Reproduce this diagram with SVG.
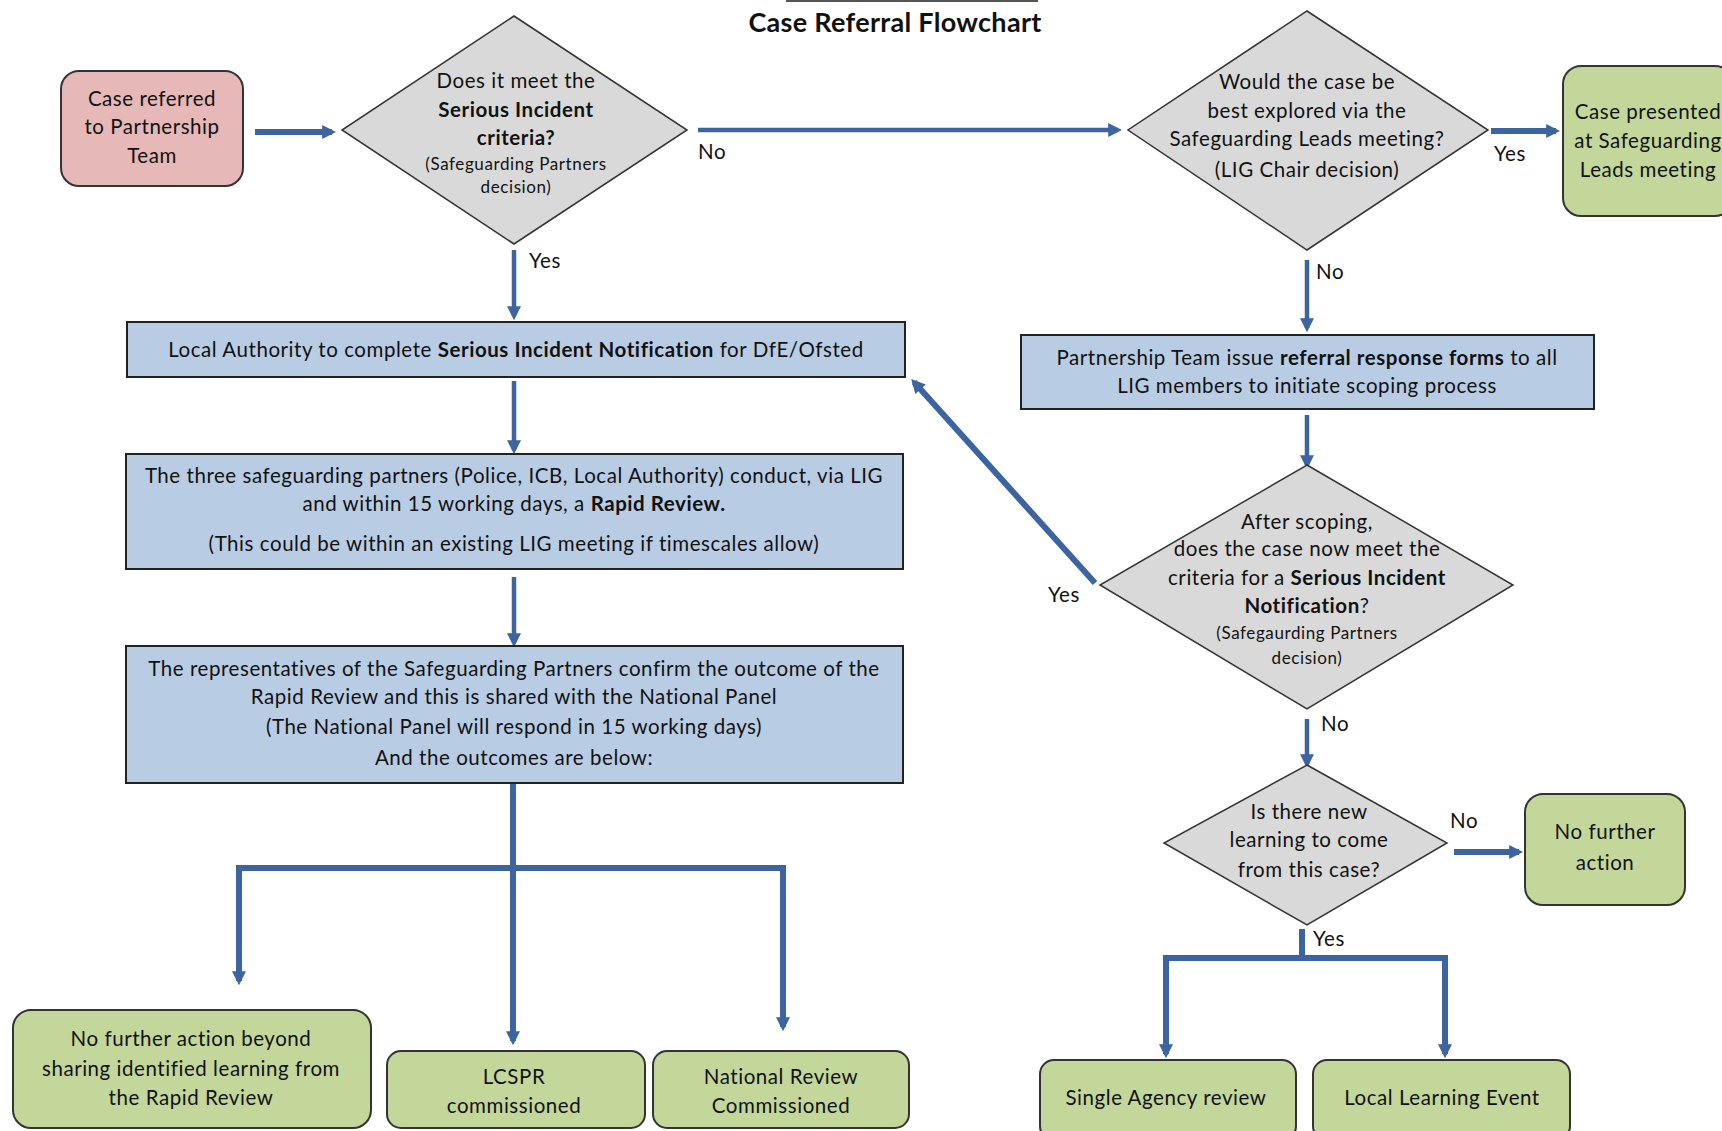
<svg xmlns="http://www.w3.org/2000/svg" width="1722" height="1131" viewBox="0 0 1722 1131">
<style>
text{font-family:Lato,"Liberation Sans",sans-serif;font-size:20.5px;letter-spacing:0.55px;fill:#111;text-anchor:middle}
.b{font-weight:bold}
.s{font-size:17px;letter-spacing:0.6px}
.t{font-size:27px;font-weight:bold;letter-spacing:0.3px}
.pink{fill:#e6b8b7;stroke:#333;stroke-width:2}
.green{fill:#c4d79b;stroke:#333;stroke-width:2}
.blue{fill:#b8cce4;stroke:#222;stroke-width:2}
.dia{fill:#d9d9d9;stroke:#333;stroke-width:1.5}
.c{fill:none;stroke:#3b64a0;stroke-linejoin:miter}
.w{stroke-width:6}
.n{stroke-width:4.5}
.lbl{text-anchor:start}
</style>
<defs>
<marker id="ah" markerUnits="userSpaceOnUse" markerWidth="14" markerHeight="14" viewBox="0 0 10 10" refX="7" refY="5" orient="auto">
<path d="M0,0 L10,5 L0,10 Z" fill="#3b64a0"/>
</marker>
</defs>
<line x1="786" y1="1" x2="1038" y2="1" stroke="#555" stroke-width="2"/>
<text class="t" x="895" y="32">Case Referral Flowchart</text>

<g id="connectors">
<line class="c w" x1="255" y1="132" x2="332" y2="132" marker-end="url(#ah)"/>
<line class="c n" x1="698" y1="130" x2="1118" y2="130" marker-end="url(#ah)"/>
<line class="c w" x1="1491" y1="131" x2="1556" y2="131" marker-end="url(#ah)"/>
<line class="c n" x1="514" y1="250" x2="514" y2="316" marker-end="url(#ah)"/>
<line class="c n" x1="514" y1="381" x2="514" y2="450" marker-end="url(#ah)"/>
<line class="c n" x1="514" y1="577" x2="514" y2="643" marker-end="url(#ah)"/>
<line class="c n" x1="1307" y1="260" x2="1307" y2="328" marker-end="url(#ah)"/>
<line class="c n" x1="1307" y1="415" x2="1307" y2="465" marker-end="url(#ah)"/>
<line class="c w" x1="1095" y1="583" x2="914" y2="382" marker-end="url(#ah)"/>
<line class="c n" x1="1307" y1="719" x2="1307" y2="764" marker-end="url(#ah)"/>
<line class="c w" x1="1454" y1="852" x2="1519" y2="852" marker-end="url(#ah)"/>
<line class="c w" x1="513" y1="783" x2="513" y2="1041" marker-end="url(#ah)"/>
<polyline class="c w" points="239,981 239,868 783,868 783,1027" marker-end="url(#ah)"/>
<path class="c w" d="M239,868 L239,981" marker-end="url(#ah)"/>
<line class="c w" x1="1302" y1="929" x2="1302" y2="958"/>
<polyline class="c w" points="1166,1054 1166,958 1445,958 1445,1054" marker-end="url(#ah)"/>
<path class="c w" d="M1166,958 L1166,1054" marker-end="url(#ah)"/>
<text class="lbl" x="698" y="159">No</text>
<text class="lbl" x="1494" y="161">Yes</text>
<text class="lbl" x="529" y="268">Yes</text>
<text class="lbl" x="1316" y="279">No</text>
<text class="lbl" x="1048" y="602">Yes</text>
<text class="lbl" x="1321" y="731">No</text>
<text class="lbl" x="1450" y="828">No</text>
<text class="lbl" x="1313" y="946">Yes</text>
</g>

<g id="n-case-referred">
<rect class="pink" x="61" y="71" width="182" height="115" rx="18"/>
<text x="152" y="106">Case referred</text>
<text x="152" y="134">to Partnership</text>
<text x="152" y="163">Team</text>
</g>

<g id="n-d1">
<polygon class="dia" points="514,16 687,130 514,244 342,130"/>
<text x="516" y="88">Does it meet the</text>
<text class="b" x="516" y="117">Serious Incident</text>
<text class="b" x="516" y="145">criteria?</text>
<text class="s" x="516" y="170">(Safeguarding Partners</text>
<text class="s" x="516" y="193">decision)</text>
</g>

<g id="n-d2">
<polygon class="dia" points="1307,11 1488,130 1307,250 1128,130"/>
<text x="1307" y="89">Would the case be</text>
<text x="1307" y="118">best explored via the</text>
<text x="1307" y="146">Safeguarding Leads meeting?</text>
<text x="1307" y="177">(LIG Chair decision)</text>
</g>

<g id="n-case-presented">
<rect class="green" x="1563" y="66" width="170" height="150" rx="18"/>
<text x="1648" y="119">Case presented</text>
<text x="1648" y="148">at Safeguarding</text>
<text x="1648" y="177">Leads meeting</text>
</g>

<g id="n-la">
<rect class="blue" x="127" y="322" width="778" height="55"/>
<text x="516" y="357">Local Authority to complete <tspan class="b">Serious Incident Notification</tspan> for DfE/Ofsted</text>
</g>

<g id="n-rapid">
<rect class="blue" x="126" y="454" width="777" height="115"/>
<text x="514" y="483">The three safeguarding partners (Police, ICB, Local Authority) conduct, via LIG</text>
<text x="514" y="511">and within 15 working days, a <tspan class="b">Rapid Review.</tspan></text>
<text x="514" y="551">(This could be within an existing LIG meeting if timescales allow)</text>
</g>

<g id="n-reps">
<rect class="blue" x="126" y="646" width="777" height="137"/>
<text x="514" y="676">The representatives of the Safeguarding Partners confirm the outcome of the</text>
<text x="514" y="704">Rapid Review and this is shared with the National Panel</text>
<text x="514" y="734">(The National Panel will respond in 15 working days)</text>
<text x="514" y="765">And the outcomes are below:</text>
</g>

<g id="n-pt">
<rect class="blue" x="1021" y="335" width="573" height="74"/>
<text x="1307" y="365">Partnership Team issue <tspan class="b">referral response forms</tspan> to all</text>
<text x="1307" y="393">LIG members to initiate scoping process</text>
</g>

<g id="n-d3">
<polygon class="dia" points="1307,465 1513,585 1307,709 1100,585"/>
<text x="1307" y="529">After scoping,</text>
<text x="1307" y="556">does the case now meet the</text>
<text x="1307" y="585">criteria for a <tspan class="b">Serious Incident</tspan></text>
<text x="1307" y="613"><tspan class="b">Notification</tspan>?</text>
<text class="s" x="1307" y="639">(Safegaurding Partners</text>
<text class="s" x="1307" y="664">decision)</text>
</g>

<g id="n-d4">
<polygon class="dia" points="1307,765 1447,843 1307,925 1164,843"/>
<text x="1309" y="819">Is there new</text>
<text x="1309" y="847">learning to come</text>
<text x="1309" y="877">from this case?</text>
</g>

<g id="n-nfa">
<rect class="green" x="1525" y="794" width="160" height="111" rx="18"/>
<text x="1605" y="839">No further</text>
<text x="1605" y="870">action</text>
</g>

<g id="n-nfa-beyond">
<rect class="green" x="13" y="1010" width="358" height="118" rx="18"/>
<text x="191" y="1046">No further action beyond</text>
<text x="191" y="1076">sharing identified learning from</text>
<text x="191" y="1105">the Rapid Review</text>
</g>

<g id="n-lcspr">
<rect class="green" x="387" y="1051" width="258" height="77" rx="14"/>
<text x="514" y="1084">LCSPR</text>
<text x="514" y="1113">commissioned</text>
</g>

<g id="n-national">
<rect class="green" x="653" y="1051" width="256" height="77" rx="14"/>
<text x="781" y="1084">National Review</text>
<text x="781" y="1113">Commissioned</text>
</g>

<g id="n-single">
<rect class="green" x="1040" y="1060" width="256" height="80" rx="14"/>
<text x="1166" y="1105">Single Agency review</text>
</g>

<g id="n-lle">
<rect class="green" x="1313" y="1060" width="257" height="80" rx="14"/>
<text x="1442" y="1105">Local Learning Event</text>
</g>
</svg>
